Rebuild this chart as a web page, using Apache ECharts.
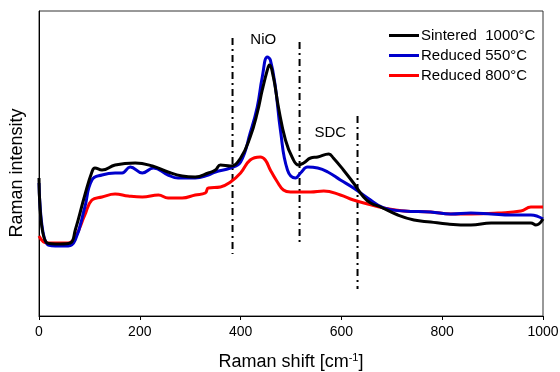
<!DOCTYPE html>
<html>
<head>
<meta charset="utf-8">
<script src="https://cdn.jsdelivr.net/npm/echarts@6/dist/echarts.min.js"></script>
<style>
  html, body { margin: 0; padding: 0; background: #fff; }
  #chart-container { width: 560px; height: 372px; }
</style>
</head>
<body>
<div id="chart-container"></div>
<script>
var dom = document.getElementById('chart-container');
var myChart = echarts.init(dom, null, { renderer: 'canvas' });

// Raman shift (cm-1) / relative intensity
var sintered = [
  [0,138],[16,73],[42,72],[62,73],[72,86],[91,121],[105,144],[111,148],[125,146],
  [151,151],[191,153],[225,150],[256,144],[284,140],[310,139],[336,143],[350,146],
  [360,151],[380,150],[400,158],[419,179],[433,203],[443,226],[453,246],[457,251],
  [465,239],[475,209],[489,176],[503,158],[515,151],[525,153],[539,158],[553,159],
  [575,162],[584,158],[604,146],[624,133],[644,119],[658,113],[678,109],[712,101],
  [744,96],[777,94],[811,92],[857,91],[897,93],[936,93],[976,93],[986,91],[1000,97]
];
var reduced550 = [
  [0,133],[18,71],[42,70],[58,70],[72,76],[91,109],[105,136],[125,141],[151,143],
  [165,143],[181,149],[205,143],[227,148],[256,141],[276,138],[310,138],[336,141],
  [350,144],[380,148],[400,154],[419,183],[433,209],[443,239],[453,259],[459,256],
  [469,229],[479,186],[493,146],[509,138],[519,143],[533,149],[553,148],[573,144],
  [598,136],[624,128],[652,118],[684,108],[724,105],[777,104],[817,102],[857,103],
  [897,102],[936,101],[976,101],[1000,97]
];
var reduced800 = [
  [0,80],[16,73],[58,73],[72,79],[91,101],[105,116],[125,119],[151,122],[177,120],
  [205,119],[237,121],[256,118],[284,118],[310,121],[330,123],[336,128],[360,129],
  [380,134],[400,143],[419,156],[439,159],[449,156],[459,146],[473,134],[485,126],
  [499,124],[539,124],[565,125],[598,121],[624,116],[652,112],[684,108],[724,105],
  [777,104],[817,102],[857,102],[911,103],[956,105],[976,109],[1000,109]
];
var seriesNames = ['Sintered  1000°C', 'Reduced 550°C', 'Reduced 800°C'];
var seriesColors = ['#000000', '#0000cc', '#ff0000'];

// dash-dot guide lines: [x, yTop, yBottom]
var guides = [[384, 278, 62], [517, 274, 73], [632, 200, 27]];
// peak annotations: [text, x, y]
var peakLabels = [['NiO', 445, 276], ['SDC', 578, 183]];

var font = 'Liberation Sans';

var series = [];
[sintered, reduced550, reduced800].forEach(function (d, i) {
  series.push({
    name: seriesNames[i],
    type: 'line',
    data: d,
    smooth: 0.45,
    showSymbol: false,
    z: 5 - i,
    lineStyle: { color: seriesColors[i], width: 3 },
    itemStyle: { color: seriesColors[i] }
  });
});
guides.forEach(function (g) {
  series.push({
    type: 'line',
    data: [[g[0], g[1]], [g[0], g[2]]],
    showSymbol: false,
    silent: true,
    z: 1,
    lineStyle: { color: '#000', width: 2, type: [7, 4, 2, 4] }
  });
});
series.push({
  type: 'scatter',
  data: peakLabels.map(function (p) { return { value: [p[1], p[2]], name: p[0] }; }),
  symbolSize: 1,
  itemStyle: { color: 'transparent', opacity: 1 },
  silent: true,
  z: 10,
  label: {
    show: true,
    position: 'inside',
    formatter: '{b}',
    color: '#000',
    textBorderWidth: 0,
    fontSize: 15,
    fontFamily: font
  }
});

var option = {
  animation: false,
  backgroundColor: '#fff',
  grid: {
    left: 39, right: 17, top: 11, bottom: 56,
    outerBoundsMode: 'none',
    containLabel: false,
    show: true, borderColor: '#333', borderWidth: 1
  },
  legend: {
    data: seriesNames,
    orient: 'vertical',
    left: 384,
    top: 23,
    itemGap: 5,
    itemWidth: 30,
    itemHeight: 16,
    icon: 'path://M0,6 L30,6 L30,9 L0,9 Z',
    textStyle: { fontSize: 15, fontFamily: font, color: '#000', padding: [0, 0, 0, -3] }
  },
  graphic: [{
    type: 'text',
    x: 17,
    y: 173,
    rotation: Math.PI / 2,
    style: {
      text: 'Raman intensity',
      fontSize: 18,
      fontFamily: font,
      fill: '#000',
      align: 'center',
      verticalAlign: 'middle'
    }
  }],
  xAxis: {
    type: 'value',
    min: 0, max: 1000, interval: 200,
    name: 'Raman shift [cm{sup|-1}]',
    nameLocation: 'middle',
    nameGap: 36,
    nameTextStyle: {
      fontSize: 18, fontFamily: font, color: '#000',
      rich: { sup: { fontSize: 11, fontFamily: font, color: '#000', padding: [0, 0, 10, 0] } }
    },
    axisLine: { lineStyle: { color: '#000', width: 1 } },
    axisTick: { show: true, length: 4, lineStyle: { color: '#000' } },
    splitLine: { show: false },
    axisLabel: {
      fontSize: 14, fontFamily: font, color: '#000', margin: 9,
      formatter: function (v) { return String(v); }
    }
  },
  yAxis: {
    type: 'value',
    min: 0, max: 305,
    axisLine: { show: true, lineStyle: { color: '#000', width: 1 } },
    axisTick: { show: false },
    axisLabel: { show: false },
    splitLine: { show: false }
  },
  series: series
};

myChart.setOption(option);
window.addEventListener('resize', myChart.resize);
</script>
</body>
</html>
